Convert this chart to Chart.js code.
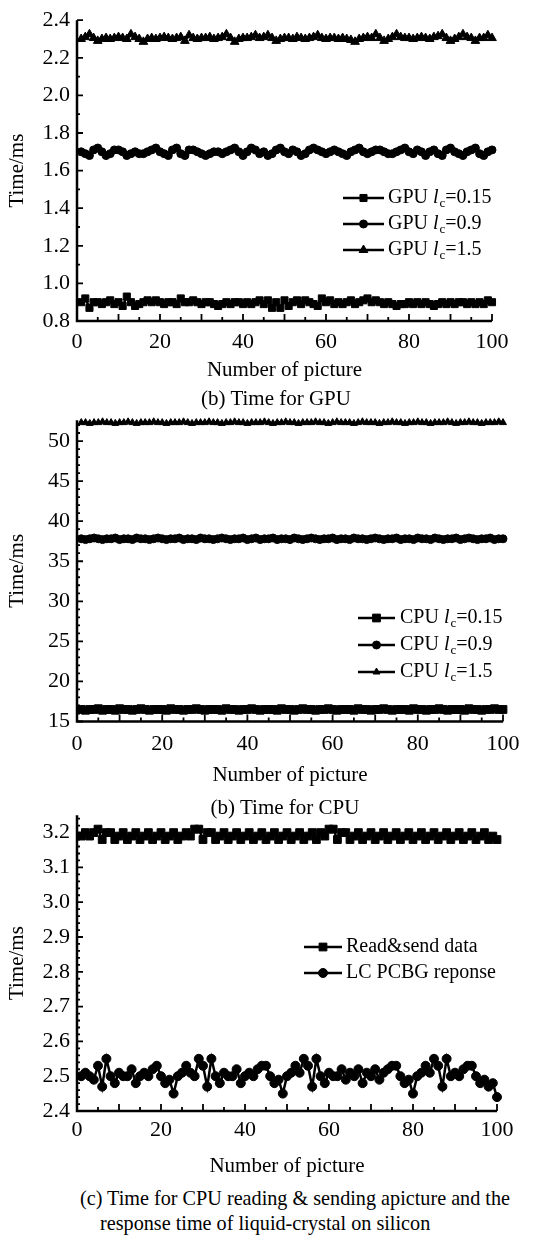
<!DOCTYPE html>
<html>
<head>
<meta charset="utf-8">
<script src="https://cdn.jsdelivr.net/npm/chart.js@4.4.0/dist/chart.umd.min.js"></script>
<style>
  body { margin: 0; background: #fff; width: 554px; height: 1235px; position: relative; overflow: hidden;
         font-family: "Liberation Serif", "Times New Roman", serif; color: #000; }
  canvas { position: absolute; left: 0; }
  .cap { position: absolute; font-size: 21px; line-height: 24px; white-space: nowrap; }
</style>
</head>
<body>
<canvas id="gpuChart" width="554" height="385" style="top:0px"></canvas>
<canvas id="cpuChart" width="554" height="390" style="top:400px"></canvas>
<canvas id="lcosChart" width="554" height="390" style="top:795px"></canvas>
<div class="cap" style="top:386px; left:0; width:552px; text-align:center">(b) Time for GPU</div>
<div class="cap" style="top:795px; left:0; width:570px; text-align:center">(b) Time for CPU</div>
<div class="cap" style="top:1186px; left:80px; font-size:20.2px">(c) Time for CPU reading &amp; sending apicture and the</div>
<div class="cap" style="top:1211px; left:100px; font-size:20.2px">response time of liquid-crystal on silicon</div>
<script>
// picture index (x axis)
const pictureNo = [
  1, 2, 3, 4, 5, 6, 7, 8, 9, 10, 11, 12, 13, 14, 15, 16, 17, 18, 19, 20,
  21, 22, 23, 24, 25, 26, 27, 28, 29, 30, 31, 32, 33, 34, 35, 36, 37, 38, 39, 40,
  41, 42, 43, 44, 45, 46, 47, 48, 49, 50, 51, 52, 53, 54, 55, 56, 57, 58, 59, 60,
  61, 62, 63, 64, 65, 66, 67, 68, 69, 70, 71, 72, 73, 74, 75, 76, 77, 78, 79, 80,
  81, 82, 83, 84, 85, 86, 87, 88, 89, 90, 91, 92, 93, 94, 95, 96, 97, 98, 99, 100
];

// GPU times (ms)
const gpuLc015 = [
  0.90, 0.92, 0.87, 0.90, 0.90, 0.89, 0.90, 0.91, 0.89, 0.90,
  0.88, 0.93, 0.90, 0.88, 0.89, 0.90, 0.91, 0.90, 0.91, 0.90,
  0.89, 0.90, 0.90, 0.89, 0.92, 0.90, 0.90, 0.91, 0.90, 0.89,
  0.90, 0.90, 0.89, 0.88, 0.89, 0.90, 0.89, 0.90, 0.90, 0.89,
  0.90, 0.89, 0.90, 0.91, 0.89, 0.91, 0.87, 0.90, 0.87, 0.91,
  0.88, 0.90, 0.91, 0.89, 0.91, 0.90, 0.89, 0.88, 0.92, 0.90,
  0.91, 0.89, 0.90, 0.89, 0.90, 0.91, 0.89, 0.90, 0.91, 0.92,
  0.90, 0.91, 0.90, 0.89, 0.90, 0.89, 0.88, 0.89, 0.89, 0.90,
  0.89, 0.90, 0.89, 0.90, 0.89, 0.88, 0.89, 0.90, 0.89, 0.90,
  0.89, 0.90, 0.90, 0.89, 0.90, 0.89, 0.90, 0.89, 0.91, 0.90
];
const gpuLc09 = [
  1.70, 1.69, 1.68, 1.71, 1.72, 1.70, 1.68, 1.69, 1.71, 1.71,
  1.70, 1.68, 1.69, 1.70, 1.69, 1.69, 1.70, 1.71, 1.72, 1.70,
  1.69, 1.68, 1.71, 1.72, 1.69, 1.68, 1.71, 1.71, 1.70, 1.69,
  1.68, 1.69, 1.70, 1.70, 1.69, 1.70, 1.71, 1.72, 1.70, 1.68,
  1.70, 1.72, 1.71, 1.69, 1.70, 1.68, 1.69, 1.71, 1.72, 1.70,
  1.69, 1.71, 1.70, 1.68, 1.69, 1.71, 1.72, 1.71, 1.70, 1.69,
  1.70, 1.71, 1.70, 1.69, 1.68, 1.70, 1.71, 1.72, 1.70, 1.69,
  1.70, 1.71, 1.71, 1.70, 1.69, 1.69, 1.70, 1.71, 1.72, 1.70,
  1.69, 1.71, 1.70, 1.68, 1.70, 1.71, 1.69, 1.68, 1.71, 1.72,
  1.70, 1.69, 1.68, 1.70, 1.71, 1.72, 1.69, 1.68, 1.70, 1.71
];
const gpuLc15 = [
  2.300, 2.310, 2.325, 2.305, 2.290, 2.300, 2.305, 2.300, 2.305, 2.310,
  2.305, 2.300, 2.325, 2.310, 2.300, 2.285, 2.300, 2.305, 2.300, 2.305,
  2.310, 2.305, 2.300, 2.305, 2.310, 2.290, 2.320, 2.305, 2.300, 2.305,
  2.305, 2.310, 2.300, 2.305, 2.310, 2.325, 2.305, 2.285, 2.300, 2.305,
  2.305, 2.310, 2.320, 2.305, 2.310, 2.320, 2.305, 2.290, 2.300, 2.305,
  2.305, 2.300, 2.310, 2.305, 2.300, 2.305, 2.310, 2.320, 2.305, 2.300,
  2.305, 2.305, 2.300, 2.305, 2.300, 2.295, 2.285, 2.300, 2.305, 2.310,
  2.305, 2.325, 2.305, 2.290, 2.300, 2.310, 2.325, 2.310, 2.305, 2.305,
  2.300, 2.305, 2.310, 2.305, 2.300, 2.310, 2.315, 2.325, 2.305, 2.290,
  2.300, 2.310, 2.325, 2.310, 2.305, 2.290, 2.305, 2.305, 2.320, 2.305
];

// CPU times (ms)
const cpuLc015 = [
  16.5, 16.4, 16.5, 16.5, 16.6, 16.4, 16.5, 16.5, 16.4, 16.6,
  16.5, 16.5, 16.4, 16.5, 16.6, 16.5, 16.4, 16.5, 16.5, 16.5,
  16.4, 16.6, 16.5, 16.5, 16.4, 16.5, 16.5, 16.6, 16.5, 16.4,
  16.5, 16.5, 16.5, 16.4, 16.6, 16.5, 16.5, 16.4, 16.5, 16.5,
  16.6, 16.5, 16.4, 16.5, 16.5, 16.5, 16.4, 16.6, 16.5, 16.5,
  16.4, 16.5, 16.6, 16.5, 16.5, 16.4, 16.5, 16.5, 16.6, 16.5,
  16.4, 16.5, 16.5, 16.5, 16.4, 16.6, 16.5, 16.5, 16.4, 16.5,
  16.5, 16.6, 16.5, 16.4, 16.5, 16.5, 16.5, 16.4, 16.6, 16.5,
  16.5, 16.4, 16.5, 16.5, 16.6, 16.5, 16.4, 16.5, 16.5, 16.5,
  16.4, 16.6, 16.5, 16.5, 16.4, 16.5, 16.5, 16.6, 16.5, 16.5
];
const cpuLc09 = [
  37.8, 37.7, 37.8, 37.9, 37.8, 37.7, 37.8, 37.8, 37.9, 37.7,
  37.8, 37.8, 37.7, 37.9, 37.8, 37.8, 37.7, 37.8, 37.9, 37.8,
  37.7, 37.8, 37.8, 37.9, 37.7, 37.8, 37.8, 37.7, 37.9, 37.8,
  37.8, 37.7, 37.8, 37.9, 37.8, 37.7, 37.8, 37.8, 37.9, 37.7,
  37.8, 37.9, 37.7, 37.8, 37.8, 37.9, 37.7, 37.8, 37.8, 37.7,
  37.9, 37.8, 37.7, 37.8, 37.9, 37.8, 37.7, 37.8, 37.8, 37.9,
  37.7, 37.8, 37.8, 37.7, 37.9, 37.8, 37.8, 37.7, 37.8, 37.9,
  37.8, 37.7, 37.8, 37.8, 37.9, 37.7, 37.8, 37.8, 37.7, 37.9,
  37.8, 37.8, 37.7, 37.9, 37.8, 37.7, 37.8, 37.8, 37.9, 37.7,
  37.8, 37.9, 37.8, 37.7, 37.8, 37.8, 37.9, 37.7, 37.8, 37.8
];
const cpuLc15 = [
  52.3, 52.3, 52.2, 52.3, 52.3, 52.4, 52.3, 52.3, 52.2, 52.3,
  52.3, 52.4, 52.3, 52.2, 52.3, 52.3, 52.3, 52.4, 52.3, 52.3,
  52.2, 52.3, 52.3, 52.3, 52.4, 52.3, 52.2, 52.3, 52.3, 52.3,
  52.4, 52.3, 52.3, 52.2, 52.3, 52.3, 52.4, 52.3, 52.3, 52.2,
  52.3, 52.3, 52.3, 52.4, 52.3, 52.2, 52.3, 52.3, 52.4, 52.3,
  52.3, 52.2, 52.3, 52.3, 52.3, 52.4, 52.3, 52.3, 52.2, 52.3,
  52.4, 52.3, 52.3, 52.3, 52.2, 52.3, 52.4, 52.3, 52.3, 52.3,
  52.2, 52.3, 52.3, 52.4, 52.3, 52.3, 52.2, 52.3, 52.3, 52.4,
  52.3, 52.3, 52.2, 52.3, 52.3, 52.3, 52.4, 52.3, 52.2, 52.3,
  52.3, 52.4, 52.3, 52.3, 52.2, 52.3, 52.3, 52.3, 52.4, 52.3
];

// CPU read & send vs LC response (ms)
const readSend = [
  3.19, 3.20, 3.19, 3.20, 3.21, 3.18, 3.20, 3.20, 3.18, 3.19,
  3.20, 3.18, 3.19, 3.20, 3.18, 3.19, 3.20, 3.18, 3.19, 3.20,
  3.18, 3.19, 3.20, 3.18, 3.19, 3.20, 3.19, 3.21, 3.21, 3.18,
  3.20, 3.20, 3.18, 3.19, 3.20, 3.18, 3.19, 3.20, 3.18, 3.19,
  3.20, 3.18, 3.19, 3.20, 3.18, 3.19, 3.20, 3.18, 3.19, 3.20,
  3.18, 3.19, 3.20, 3.18, 3.19, 3.20, 3.18, 3.20, 3.19, 3.21,
  3.21, 3.18, 3.20, 3.20, 3.18, 3.19, 3.20, 3.18, 3.19, 3.20,
  3.18, 3.19, 3.20, 3.18, 3.19, 3.20, 3.18, 3.19, 3.20, 3.18,
  3.19, 3.20, 3.18, 3.19, 3.20, 3.18, 3.19, 3.20, 3.18, 3.19,
  3.20, 3.18, 3.19, 3.20, 3.18, 3.19, 3.20, 3.18, 3.19, 3.18
];
const lcResponse = [
  2.50, 2.51, 2.50, 2.49, 2.53, 2.47, 2.55, 2.50, 2.48, 2.51,
  2.50, 2.50, 2.52, 2.48, 2.50, 2.51, 2.50, 2.52, 2.53, 2.50,
  2.48, 2.49, 2.45, 2.50, 2.51, 2.53, 2.51, 2.50, 2.55, 2.53,
  2.47, 2.55, 2.50, 2.48, 2.51, 2.50, 2.50, 2.52, 2.48, 2.50,
  2.51, 2.50, 2.52, 2.53, 2.53, 2.50, 2.48, 2.49, 2.45, 2.50,
  2.51, 2.53, 2.51, 2.55, 2.53, 2.47, 2.55, 2.50, 2.48, 2.51,
  2.50, 2.50, 2.52, 2.49, 2.51, 2.50, 2.52, 2.48, 2.51, 2.50,
  2.52, 2.49, 2.51, 2.52, 2.53, 2.53, 2.50, 2.48, 2.49, 2.45,
  2.50, 2.51, 2.53, 2.51, 2.55, 2.53, 2.47, 2.55, 2.50, 2.51,
  2.50, 2.52, 2.53, 2.53, 2.50, 2.48, 2.49, 2.47, 2.48, 2.44
];

Chart.defaults.font.family = '"Liberation Serif", "Times New Roman", serif';
Chart.defaults.color = '#000';

function toPoints(ys) {
  return ys.map((v, i) => ({ x: pictureNo[i], y: v }));
}

function series(label, ys, style, radius) {
  return {
    label: label,
    data: toPoints(ys),
    borderColor: '#000',
    borderWidth: 2.5,
    pointStyle: style,
    pointRadius: radius,
    pointBackgroundColor: '#000',
    pointBorderColor: '#000',
    pointBorderWidth: 1,
    tension: 0,
    clip: false
  };
}

// inward ticks, axis lines and a line+marker legend drawn on the canvas
const framePlugin = {
  id: 'frame',
  afterDatasetsDraw(chart, args, opts) {
    const { ctx, chartArea: a, scales: { x, y } } = chart;
    ctx.save();
    ctx.strokeStyle = '#000';
    ctx.fillStyle = '#000';
    ctx.lineWidth = 2.5;
    ctx.beginPath();
    ctx.moveTo(a.left, a.top);
    ctx.lineTo(a.left, a.bottom);
    ctx.lineTo(a.right, a.bottom);
    ctx.stroke();

    ctx.lineWidth = 1.8;
    ctx.beginPath();
    const nx = Math.round((x.max - x.min) / opts.xMinor);
    for (let i = 0; i <= nx; i++) {
      const v = x.min + i * opts.xMinor;
      const r = v / opts.xMajor;
      const len = Math.abs(r - Math.round(r)) < 1e-6 ? 7 : 4;
      const px = x.getPixelForValue(v);
      ctx.moveTo(px, a.bottom);
      ctx.lineTo(px, a.bottom - len);
    }
    const ny = Math.floor((y.max - y.min) / opts.yMinor + 1e-6);
    for (let i = 0; i <= ny; i++) {
      const v = y.min + i * opts.yMinor;
      const r = v / opts.yMajor;
      const len = Math.abs(r - Math.round(r)) < 1e-6 ? 6 : 3;
      const py = y.getPixelForValue(v);
      ctx.moveTo(a.left, py);
      ctx.lineTo(a.left + len, py);
    }
    ctx.stroke();

    const lg = opts.legend;
    chart.data.datasets.forEach((ds, i) => {
      const cy = lg.y0 + i * lg.dy;
      ctx.lineWidth = 2.5;
      ctx.beginPath();
      ctx.moveTo(lg.x0, cy);
      ctx.lineTo(lg.x1, cy);
      ctx.stroke();
      ctx.lineWidth = 1;
      Chart.helpers.drawPoint(ctx, { pointStyle: ds.pointStyle, radius: ds.pointRadius, rotation: 0, borderWidth: 1 },
        (lg.x0 + lg.x1) / 2, cy);

      const fam = '"Liberation Serif", serif';
      ctx.textBaseline = 'middle';
      ctx.textAlign = 'left';
      const parts = ds.label.split('l_c');
      let tx = lg.tx;
      ctx.font = '20px ' + fam;
      ctx.fillText(parts[0], tx, cy);
      tx += ctx.measureText(parts[0]).width;
      if (parts.length > 1) {
        ctx.font = 'italic 20px ' + fam;
        ctx.fillText('l', tx, cy);
        tx += ctx.measureText('l').width + 1;
        ctx.font = '13px ' + fam;
        ctx.fillText('c', tx, cy + 6);
        tx += ctx.measureText('c').width;
        ctx.font = '20px ' + fam;
        ctx.fillText(parts[1], tx, cy);
      }
    });
    ctx.restore();
  }
};

function makeChart(id, datasets, cfg) {
  return new Chart(document.getElementById(id), {
    type: 'line',
    data: { datasets: datasets },
    plugins: [framePlugin],
    options: {
      responsive: false,
      animation: false,
      devicePixelRatio: 1,
      layout: { padding: { left: 0, top: cfg.top, right: cfg.right, bottom: 0 } },
      plugins: {
        legend: { display: false },
        tooltip: { enabled: false },
        frame: { xMajor: 10, xMinor: 5, yMajor: cfg.yMajor, yMinor: cfg.yMinor, legend: cfg.legend }
      },
      scales: {
        x: {
          type: 'linear', min: 0, max: 100,
          grid: { display: false, drawTicks: false },
          border: { display: false },
          ticks: { stepSize: 20, padding: cfg.xPad, font: { size: 22 }, autoSkip: false, maxRotation: 0 },
          title: { display: true, text: 'Number of picture', font: { size: 21 }, padding: { top: 0, bottom: cfg.titlePad } },
          afterFit(s) { s.height = cfg.xHeight; }
        },
        y: {
          type: 'linear', min: cfg.yMin, max: cfg.yMax,
          grid: { display: false, drawTicks: false },
          border: { display: false },
          ticks: { stepSize: cfg.yMajor, padding: 7, font: { size: 22 }, autoSkip: false, includeBounds: false,
                   callback: v => v.toFixed(cfg.dec) },
          title: { display: true, text: 'Time/ms', font: { size: 21 }, padding: 5 },
          afterFit(s) { s.width = 77; }
        }
      }
    }
  });
}

makeChart('gpuChart', [
  series('GPU l_c=0.15', gpuLc015, 'rect', 5),
  series('GPU l_c=0.9', gpuLc09, 'circle', 4),
  series('GPU l_c=1.5', gpuLc15, 'triangle', 5)
], { top: 19, right: 62, xHeight: 64, xPad: 8, titlePad: 2, yMin: 0.8, yMax: 2.4, yMajor: 0.2, yMinor: 0.1, dec: 1,
     legend: { x0: 343, x1: 384, tx: 388, y0: 198, dy: 26 } });

makeChart('cpuChart', [
  series('CPU l_c=0.15', cpuLc015, 'rect', 5.5),
  series('CPU l_c=0.9', cpuLc09, 'circle', 4),
  series('CPU l_c=1.5', cpuLc15, 'triangle', 4)
], { top: 17, right: 51, xHeight: 68.5, xPad: 10, titlePad: 2, yMin: 15, yMax: 52.6, yMajor: 5, yMinor: 1, dec: 0,
     legend: { x0: 358, x1: 395, tx: 400, y0: 218, dy: 27 } });

makeChart('lcosChart', [
  series('Read&send data', readSend, 'rect', 5.5),
  series('LC PCBG reponse', lcResponse, 'circle', 4.5)
], { top: 17, right: 57, xHeight: 74, xPad: 6, titlePad: 6, yMin: 2.4, yMax: 3.25, yMajor: 0.1, yMinor: 0.02, dec: 1,
     legend: { x0: 304, x1: 342, tx: 346, y0: 152, dy: 26 } });
</script>
</body>
</html>
